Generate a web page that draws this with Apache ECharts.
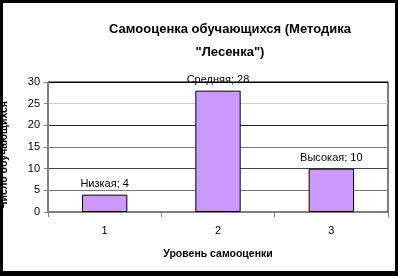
<!DOCTYPE html>
<html>
<head>
<meta charset="utf-8">
<script src="https://cdn.jsdelivr.net/npm/echarts@6/dist/echarts.min.js"></script>
<style>
  html, body { margin: 0; padding: 0; background: #000; width: 398px; height: 276px; overflow: hidden; }
  #chart { position: absolute; left: 3px; top: 3px; width: 392px; height: 268px; background: #fff; }
</style>
</head>
<body>
<div id="chart"></div>
<script>
const titleText = 'Самооценка обучающихся (Методика\n"Лесенка")';
const xAxisName = 'Уровень самооценки';
const yAxisName = 'Число обучающихся';
const categories = ['1', '2', '3'];
const levelNames = ['Низкая', 'Средняя', 'Высокая'];
const values = [4, 28, 10];
const yTicks = [0, 5, 10, 15, 20, 25, 30];

const font = "'Liberation Sans', Arial, sans-serif";
const chart = echarts.init(document.getElementById('chart'), null, { renderer: 'canvas' });
chart.setOption({
  animation: false,
  backgroundColor: '#fff',
  title: {
    text: titleText,
    left: 222,
    top: 10,
    textAlign: 'center',
    textStyle: { fontFamily: font, fontSize: 13, fontWeight: 'bold', color: '#000', lineHeight: 23 }
  },
  grid: {
    left: 45, right: 7, top: 79, bottom: 59,
    outerBoundsMode: 'none',
    containLabel: false,
    show: true, borderColor: '#000', borderWidth: 1, backgroundColor: '#fff'
  },
  xAxis: {
    type: 'category',
    data: categories,
    name: xAxisName,
    nameLocation: 'middle',
    nameGap: 37,
    nameTextStyle: { fontFamily: font, fontSize: 10.5, fontWeight: 'bold', color: '#000' },
    axisLine: { lineStyle: { color: '#808080', width: 1 } },
    axisTick: { show: true, length: 5, lineStyle: { color: '#808080' } },
    axisLabel: { fontFamily: font, fontSize: 11, color: '#000', margin: 13 }
  },
  yAxis: {
    type: 'value',
    min: yTicks[0],
    max: yTicks[yTicks.length - 1],
    interval: 5,
    name: yAxisName,
    nameLocation: 'middle',
    nameRotate: 90,
    nameGap: 38,
    nameTextStyle: { fontFamily: font, fontSize: 10.5, fontWeight: 'bold', color: '#000', padding: [0, 16, 0, 0] },
    axisLine: { show: true, lineStyle: { color: '#808080', width: 1 } },
    axisTick: { show: true, length: 4, lineStyle: { color: '#808080' } },
    axisLabel: { fontFamily: font, fontSize: 11, color: '#000', margin: 8 },
    splitLine: { show: true, lineStyle: { color: ['#777', '#777', '#444', '#777', '#222', '#ccc', '#000'], width: 1 } }
  },
  series: [{
    type: 'bar',
    data: values,
    barWidth: '40%',
    itemStyle: { color: '#CC99FF', borderColor: '#000', borderWidth: 1 },
    label: {
      show: true,
      position: 'top',
      distance: 5,
      fontFamily: font,
      fontSize: 11,
      color: '#000',
      formatter: p => levelNames[p.dataIndex] + '; ' + p.value
    }
  }]
});
</script>
</body>
</html>
